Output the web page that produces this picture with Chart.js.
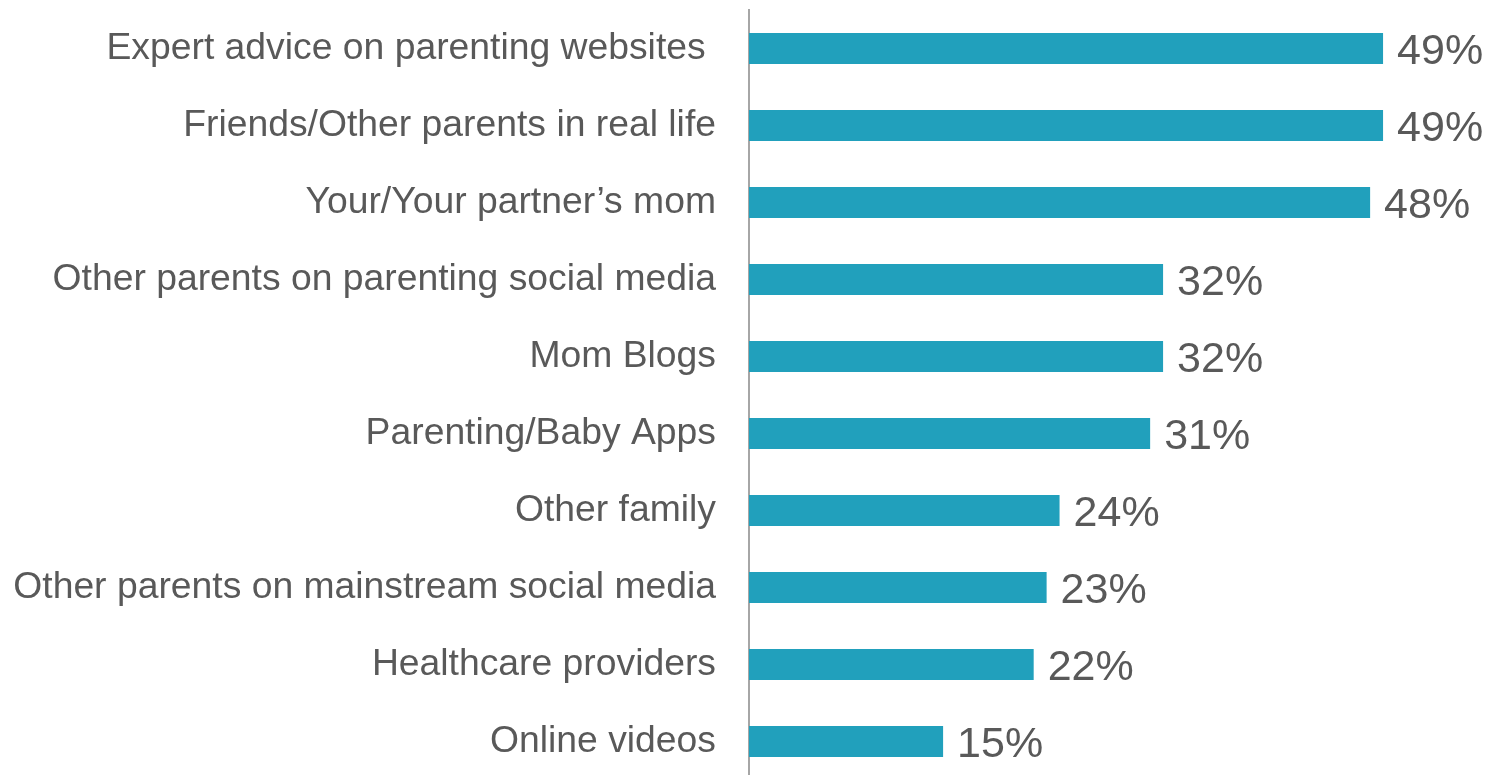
<!DOCTYPE html>
<html>
<head>
<meta charset="utf-8">
<script src="https://cdn.jsdelivr.net/npm/chart.js@4"></script>
<style>
    html, body { margin: 0; padding: 0; background: #fff; overflow: hidden; }
    canvas { display: block; }
</style>
</head>
<body>
<canvas id="sources" width="1490" height="780"></canvas>
<script>
'use strict'

let sources = [
    'Expert advice on parenting websites ',
    'Friends/Other parents in real life',
    'Your/Your partner\u2019s mom',
    'Other parents on parenting social media',
    'Mom Blogs',
    'Parenting/Baby Apps',
    'Other family',
    'Other parents on mainstream social media',
    'Healthcare providers',
    'Online videos'
];
let shares = [49, 49, 48, 32, 32, 31, 24, 23, 22, 15];

const textGray = '#595959';

// writes "NN%" just past the end of each bar
const valueLabels = {
    id: 'valueLabels',
    afterDatasetsDraw(chart) {
        let ctx = chart.ctx;
        let meta = chart.getDatasetMeta(0);
        ctx.save();
        ctx.font = '43px "Liberation Sans", Arial, sans-serif';
        ctx.fillStyle = textGray;
        ctx.textAlign = 'left';
        ctx.textBaseline = 'middle';
        meta.data.forEach((bar, i) => {
            ctx.fillText(shares[i] + '%', bar.x + 14, bar.y + 4);
        });
        ctx.restore();
    }
};

window.onload = function () {
    let canvas = document.getElementById('sources');
    new Chart(canvas, {
        type: 'bar',
        data: {
            labels: sources,
            datasets: [{
                data: shares,
                backgroundColor: '#21A0BC',
                barPercentage: 0.4,
                categoryPercentage: 1
            }]
        },
        options: {
            indexAxis: 'y',
            responsive: false,
            animation: false,
            layout: { padding: { top: 10, right: 94, bottom: 0, left: 0 } },
            plugins: {
                legend: { display: false },
                tooltip: { enabled: false }
            },
            scales: {
                x: {
                    display: false,
                    min: 0,
                    max: 50
                },
                y: {
                    grid: { display: false, drawTicks: false },
                    border: { display: true, color: '#A6A6A6', width: 2 },
                    ticks: {
                        color: textGray,
                        padding: 33,
                        font: { family: '"Liberation Sans", Arial, sans-serif', size: 37.3 }
                    },
                    afterFit: function (scale) {
                        scale.width = 749;
                        scale.paddingTop = 0;
                        scale.paddingBottom = 0;
                    }
                }
            }
        },
        plugins: [valueLabels]
    });
}
</script>
</body>
</html>
